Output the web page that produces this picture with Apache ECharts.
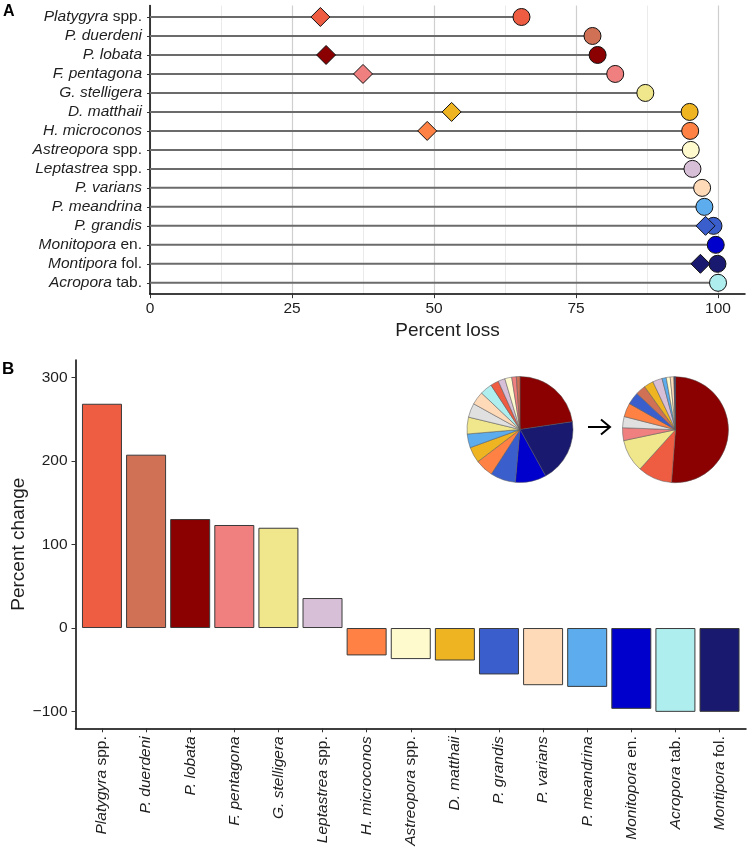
<!DOCTYPE html>
<html>
<head>
<meta charset="utf-8">
<script src="https://cdn.jsdelivr.net/npm/echarts@6/dist/echarts.min.js"></script>
<style>
html,body{margin:0;padding:0;background:#fff;}
#chart{width:750px;height:851px;}
</style>
</head>
<body>
<div id="chart"></div>
<script>
// ---------- Panel A data: percent loss ----------
const lossSpecies = ['Platygyra spp.', 'P. duerdeni', 'P. lobata', 'F. pentagona', 'G. stelligera',
  'D. matthaii', 'H. microconos', 'Astreopora spp.', 'Leptastrea spp.', 'P. varians',
  'P. meandrina', 'P. grandis', 'Monitopora en.', 'Montipora fol.', 'Acropora tab.'];
const lossCircle = [65.4, 77.9, 78.8, 81.9, 87.2, 95.0, 95.1, 95.2, 95.5, 97.2, 97.6, 99.2, 99.6, 99.9, 100];
const lossDiamond = [30.0, null, 31.0, 37.5, null, 53.1, 48.8, null, null, null, null, 97.8, null, 96.9, null];
const lossTicks = [0, 25, 50, 75, 100];

// ---------- Panel B data: percent change ----------
const changeSpecies = ['Platygyra spp.', 'P. duerdeni', 'P. lobata', 'F. pentagona', 'G. stelligera',
  'Leptastrea spp.', 'H. microconos', 'Astreopora spp.', 'D. matthaii', 'P. grandis',
  'P. varians', 'P. meandrina', 'Monitopora en.', 'Acropora tab.', 'Montipora fol.'];
const changeValues = [268.6, 207.6, 130.5, 123.4, 120.1, 35.9, -32.8, -37.2, -38.9, -55.6,
  -68.5, -70.5, -96.8, -100.4, -100.4];
const changeTicks = [-100, 0, 100, 200, 300];

// ---------- Pie data: composition before / after ----------
const pieBeforeNames = ['P. lobata', 'Montipora fol.', 'Monitopora en.', 'P. grandis', 'H. microconos',
  'D. matthaii', 'P. meandrina', 'G. stelligera', 'Other', 'P. varians', 'Acropora tab.',
  'Platygyra spp.', 'Leptastrea spp.', 'Astreopora spp.', 'F. pentagona', 'P. duerdeni'];
const pieBeforeValues = [22.6, 19.3, 9.4, 7.7, 5.5, 4.8, 4.2, 5.1, 4.3, 4.0, 3.7, 2.5, 2.1, 2.1, 1.4, 1.1];
const pieAfterNames = ['P. lobata', 'Platygyra spp.', 'G. stelligera', 'F. pentagona', 'Other',
  'H. microconos', 'P. grandis', 'P. duerdeni', 'D. matthaii', 'Leptastrea spp.', 'P. meandrina',
  'Astreopora spp.', 'P. varians', 'Acropora tab.', 'Monitopora en.', 'Montipora fol.'];
const pieAfterValues = [51.2, 10.5, 10.0, 3.9, 3.4, 4.2, 3.8, 3.1, 2.9, 2.9, 1.3, 1.2, 1.1, 0.15, 0.15, 0.2];

// ---------- Styles ----------
const palette = {
  'Platygyra spp.': '#EE5C42', 'P. duerdeni': '#D07155', 'P. lobata': '#8B0000',
  'F. pentagona': '#F08080', 'G. stelligera': '#F0E68C', 'D. matthaii': '#EEB422',
  'H. microconos': '#FF8244', 'Astreopora spp.': '#FFFACD', 'Leptastrea spp.': '#D8BFD8',
  'P. varians': '#FFDAB9', 'P. meandrina': '#5CACEE', 'P. grandis': '#3A5FCD',
  'Monitopora en.': '#0000CD', 'Montipora fol.': '#191970', 'Acropora tab.': '#AEEEEE',
  'Other': '#E0E0E0'
};
const FONT = '"Liberation Sans", Arial, Helvetica, sans-serif';
const TXT = '#1e1e1e';
const FS = 15.5;

function richName(name) {
  const m = name.match(/^(\S+) (spp\.|en\.|fol\.|tab\.)$/);
  if (m) return '{i|' + m[1] + '}{n| ' + m[2] + '}';
  return '{i|' + name + '}';
}
const richStyle = {
  i: {fontStyle: 'italic', fontSize: FS, fontFamily: FONT, color: TXT},
  n: {fontStyle: 'normal', fontSize: FS, fontFamily: FONT, color: TXT}
};
const idx = lossSpecies.map((_, i) => i + 1);
const idxB = changeSpecies.map((_, i) => i + 1);

const chart = echarts.init(document.getElementById('chart'), null, {renderer: 'canvas'});
const option = {
  animation: false,
  backgroundColor: '#fff',
  textStyle: {fontFamily: FONT},
  grid: [
    {left: 150, top: 5.6, width: 595, height: 288.6, containLabel: false, outerBoundsMode: 'none'},
    {left: 75.5, top: 360, width: 670.5, height: 368.3, containLabel: false, outerBoundsMode: 'none'}
  ],
  xAxis: [
    {
      gridIndex: 0, type: 'value', min: 0, max: 104.75, interval: 25,
      name: 'Percent loss', nameLocation: 'middle', nameGap: 27, nameMoveOverlap: false,
      nameTextStyle: {fontSize: 19, color: TXT, fontFamily: FONT},
      axisLine: {show: true, onZero: false, lineStyle: {color: '#000', width: 1.5}},
      axisTick: {show: true, length: 4, lineStyle: {color: '#333'}, customValues: lossTicks},
      axisLabel: {fontSize: FS, color: TXT, margin: 7, customValues: lossTicks},
      splitLine: {show: true, lineStyle: {color: '#cfcfcf', width: 1.2}},
      minorTick: {show: false, splitNumber: 2},
      minorSplitLine: {show: true, lineStyle: {color: '#ebebeb', width: 1}}
    },
    {
      gridIndex: 1, type: 'value', min: 0.4, max: 15.6,
      axisLine: {show: true, onZero: false, lineStyle: {color: '#000', width: 1.5}},
      axisTick: {show: true, length: 4, lineStyle: {color: '#333'}, customValues: idxB},
      axisLabel: {
        customValues: idxB, rotate: 90, margin: 8,
        formatter: v => richName(changeSpecies[Math.round(v) - 1]),
        rich: richStyle
      },
      splitLine: {show: false}
    }
  ],
  yAxis: [
    {
      gridIndex: 0, type: 'value', min: 0.4, max: 15.6, inverse: true,
      axisLine: {show: true, lineStyle: {color: '#000', width: 1.5}},
      axisTick: {show: true, length: 3, lineStyle: {color: '#333'}, customValues: idx},
      axisLabel: {
        customValues: idx, margin: 8,
        formatter: v => richName(lossSpecies[Math.round(v) - 1]),
        rich: richStyle
      },
      splitLine: {show: false}
    },
    {
      gridIndex: 1, type: 'value', min: -120.1, max: 321,
      name: 'Percent change', nameLocation: 'middle', nameGap: 47, nameRotate: 90, nameMoveOverlap: false,
      nameTextStyle: {fontSize: 19, color: TXT, fontFamily: FONT},
      axisLine: {show: true, onZero: false, lineStyle: {color: '#000', width: 1.5}},
      axisTick: {show: true, length: 4, lineStyle: {color: '#333'}, customValues: changeTicks},
      axisLabel: {fontSize: FS, color: TXT, margin: 8, customValues: changeTicks,
        formatter: v => String(v).replace('-', '\u2212')},
      splitLine: {show: false}
    }
  ],
  series: [
    {
      type: 'custom', xAxisIndex: 0, yAxisIndex: 0, z: 2,
      data: lossCircle.map((v, i) => [v, i + 1]),
      encode: {x: 0, y: 1},
      renderItem: (params, api) => {
        const y = api.value(1);
        const s = api.coord([0, y]);
        const e = api.coord([api.value(0), y]);
        return {type: 'line', shape: {x1: s[0], y1: s[1], x2: e[0], y2: e[1]},
          style: {stroke: '#6b6b6b', lineWidth: 2}};
      }
    },
    {
      type: 'scatter', xAxisIndex: 0, yAxisIndex: 0, z: 3,
      symbol: 'circle', symbolSize: 17,
      data: lossCircle.map((v, i) => ({value: [v, i + 1],
        itemStyle: {color: palette[lossSpecies[i]], borderColor: '#111', borderWidth: 1, opacity: 1}}))
    },
    {
      type: 'scatter', xAxisIndex: 0, yAxisIndex: 0, z: 4,
      symbol: 'diamond', symbolSize: 19,
      data: lossDiamond.map((v, i) => v == null ? null : ({value: [v, i + 1],
        itemStyle: {color: palette[lossSpecies[i]], borderColor: '#111', borderWidth: 1, opacity: 1}})).filter(d => d)
    },
    {
      type: 'bar', xAxisIndex: 1, yAxisIndex: 1, barWidth: 40,
      data: changeValues.map((v, i) => ({value: [i + 1, v],
        itemStyle: {color: palette[changeSpecies[i]], borderColor: '#3a3a3a', borderWidth: 1}}))
    },
    {
      type: 'pie', center: [520, 429.5], radius: 53, startAngle: 90, clockwise: true,
      label: {show: false}, labelLine: {show: false}, silent: true,
      itemStyle: {borderColor: '#555', borderWidth: 0.5},
      data: pieBeforeNames.map((n, i) => ({name: n, value: pieBeforeValues[i], itemStyle: {color: palette[n]}}))
    },
    {
      type: 'pie', center: [675.5, 429.7], radius: 53, startAngle: 90, clockwise: true,
      label: {show: false}, labelLine: {show: false}, silent: true,
      itemStyle: {borderColor: '#555', borderWidth: 0.5},
      data: pieAfterNames.map((n, i) => ({name: n, value: pieAfterValues[i], itemStyle: {color: palette[n]}}))
    }
  ],
  graphic: [
    {type: 'text', left: 3, top: 4, style: {text: 'A', font: 'bold 16px ' + FONT, fill: '#000'}},
    {type: 'text', left: 2, top: 361, style: {text: 'B', font: 'bold 17px ' + FONT, fill: '#000'}},
    {type: 'line', shape: {x1: 588, y1: 427, x2: 610, y2: 427}, style: {stroke: '#000', lineWidth: 2}},
    {type: 'polyline', shape: {points: [[601, 419.5], [610, 427], [601, 434.5]]},
      style: {stroke: '#000', lineWidth: 2, fill: null}}
  ]
};
chart.setOption(option);
</script>
</body>
</html>
